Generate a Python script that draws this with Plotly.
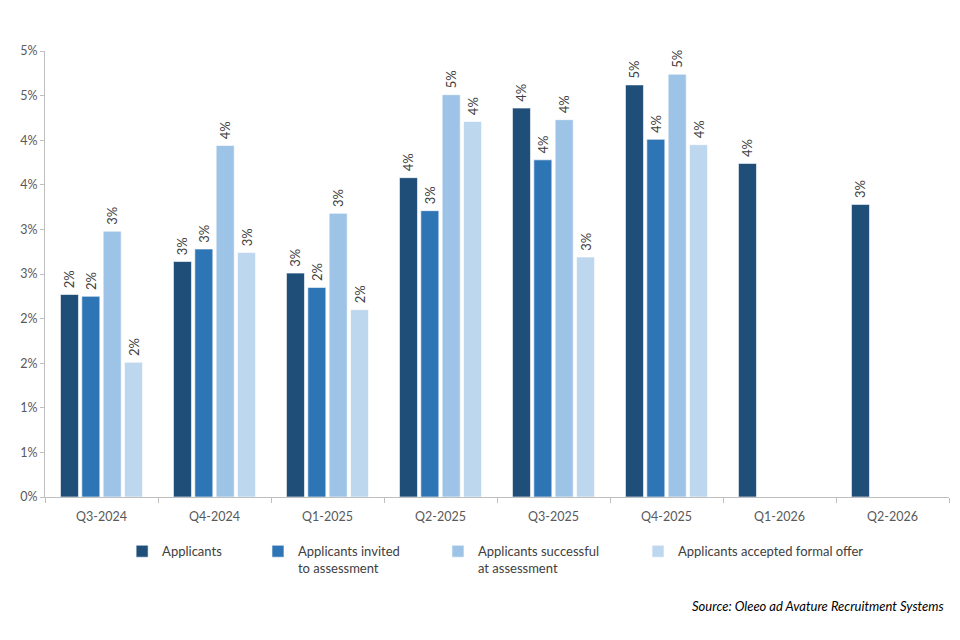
import plotly.graph_objects as go

# Quarters on the x axis
quarters = ['Q3-2024', 'Q4-2024', 'Q1-2025', 'Q2-2025',
            'Q3-2025', 'Q4-2025', 'Q1-2026', 'Q2-2026']

# Series values (share)
applicants = [0.0227, 0.0264, 0.0251, 0.0358, 0.0436, 0.0462, 0.0374, 0.0328]
invited = [0.0225, 0.0278, 0.0235, 0.0321, 0.0378, 0.0401, None, None]
successful = [0.0298, 0.0394, 0.0318, 0.0451, 0.0423, 0.0474, None, None]
accepted = [0.0151, 0.0274, 0.0210, 0.0421, 0.0269, 0.0395, None, None]

# Y axis ticks (Excel-style rounded labels)
y_tickvals = [0, 0.005, 0.01, 0.015, 0.02, 0.025, 0.03, 0.035, 0.04, 0.045, 0.05]
y_ticktext = ['0%', '1%', '1%', '2%', '2%', '3%', '3%', '4%', '4%', '5%', '5%']

FONT = 'Lato'
series = [
    ('Applicants', applicants, '#1F4E79', 'legend', 0.1185),
    ('Applicants invited<br>to assessment', invited, '#2E75B6', 'legend2', 0.2688),
    ('Applicants successful<br>at assessment', successful, '#9DC3E6', 'legend3', 0.4679),
    ('Applicants accepted formal offer', accepted, '#BDD7EE', 'legend4', 0.6892),
]

fig = go.Figure()
for name, vals, color, leg, _ in series:
    fig.add_trace(go.Bar(
        x=quarters, y=vals, name=name, legend=leg, showlegend=True,
        marker=dict(color=color, line=dict(color='rgba(255,255,255,0.6)', width=1)),
        texttemplate='\u00a0%{y:.0%}', textposition='outside', textangle=-90,
        textfont=dict(family=FONT, size=13, color='#404040'),
        constraintext='none', cliponaxis=False,
    ))

legend_style = dict(orientation='h', yanchor='top', y=-0.088, xanchor='left',
                    valign='top', bgcolor='rgba(0,0,0,0)', itemwidth=30,
                    font=dict(family=FONT, size=13, color='#404040'))
legends = {}
for i, (_, _, _, leg, lx) in enumerate(series):
    legends[leg] = dict(legend_style, x=lx - 0.0332)

# page body adds an 8px offset, so margins are shifted to compensate
fig.update_layout(
    width=960, height=640,
    margin=dict(l=37, r=19, t=43, b=151, autoexpand=False),
    paper_bgcolor='white', plot_bgcolor='white',
    showlegend=True,
    barmode='group', bargap=0.244, bargroupgap=0.157,
    font=dict(family=FONT, size=12, color='#595959'),
    xaxis=dict(type='category', showline=True, linecolor='#bfbfbf', linewidth=1,
               ticks='outside', tickson='boundaries', ticklen=5, tickcolor='#bfbfbf',
               ticklabelstandoff=8,
               tickfont=dict(family=FONT, size=12.5, color='#595959'), showgrid=False,
               automargin=False),
    yaxis=dict(range=[0, 0.05], tickvals=y_tickvals, ticktext=y_ticktext,
               showline=True, linecolor='#bfbfbf', linewidth=1, ticks='outside',
               ticklen=4, tickcolor='#bfbfbf', showgrid=False, zeroline=False,
               tickfont=dict(family=FONT, size=12.5, color='#595959'),
               automargin=False),
    annotations=[dict(text='<i>Source: Oleeo ad Avature Recruitment Systems</i>',
                      xref='paper', yref='paper', x=0.997, y=-0.244,
                      xanchor='right', yanchor='middle', showarrow=False,
                      font=dict(family=FONT, size=13, color='#000000'))],
    **legends,
)

fig.write_html('out.html')
